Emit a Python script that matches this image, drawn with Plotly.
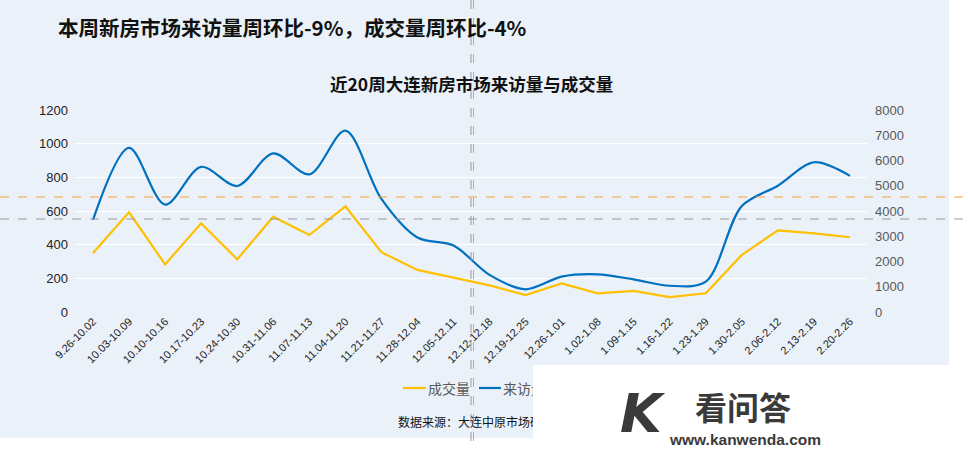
import plotly.graph_objects as go

weeks = ["9.26-10.02", "10.03-10.09", "10.10-10.16", "10.17-10.23", "10.24-10.30",
         "10.31-11.06", "11.07-11.13", "11.04-11.20", "11.21-11.27", "11.28-12.04",
         "12.05-12.11", "12.12-12.18", "12.19-12.25", "12.26-1.01", "1.02-1.08",
         "1.09-1.15", "1.16-1.22", "1.23-1.29", "1.30-2.05", "2.06-2.12",
         "2.13-2.19", "2.20-2.26"]
deals = [350, 592, 283, 527, 313, 566, 457, 628, 355, 250, 204, 158, 101, 170,
         111, 125, 89, 111, 339, 485, 467, 444]
visits = [3650, 6500, 4250, 5750, 4990, 6280, 5450, 7180, 4480, 2950, 2630, 1470,
          900, 1400, 1490, 1290, 1040, 1200, 4200, 5000, 5930, 5390]
left_ticks = [0, 200, 400, 600, 800, 1000, 1200]
right_ticks = [0, 1000, 2000, 3000, 4000, 5000, 6000, 7000, 8000]

W, H = 968, 449
L, R, T, B = 75, 868, 110, 312
FONT = "Liberation Sans, Arial, Noto Sans CJK SC"
CJK = "Noto Sans CJK SC, Liberation Sans"
PANEL = "#EAF1F9"
YELLOW = "#FFC000"
BLUE = "#0070C0"


def px(x):
    return (x - L) / (R - L)


def py(y):
    return (B - y) / (B - T)


fig = go.Figure()
fig.add_trace(go.Scatter(x=weeks, y=deals, name="成交量", mode="lines",
                         line=dict(color=YELLOW, width=2.2)))
fig.add_trace(go.Scatter(x=weeks, y=visits, name="来访量", mode="lines", yaxis="y2",
                         line=dict(color=BLUE, width=2.2, shape="spline", smoothing=0.9)))


def hline(y, color):
    return dict(type="line", xref="paper", yref="paper", x0=px(0), x1=px(968), y0=py(y), y1=py(y),
                line=dict(color=color, width=1, dash="dash"), layer="above")


def vline(x, color):
    return dict(type="line", xref="paper", yref="paper", x0=px(x), x1=px(x), y0=py(0), y1=py(449),
                line=dict(color=color, width=1, dash="dash"), layer="above")


shapes = [
    dict(type="rect", xref="paper", yref="paper", x0=px(0), x1=px(949), y0=py(0), y1=py(438),
         fillcolor=PANEL, line_width=0, layer="below"),
    # legend swatches
    dict(type="line", xref="paper", yref="paper", x0=px(403), x1=px(426), y0=py(388), y1=py(388),
         line=dict(color=YELLOW, width=2.2), layer="above"),
    dict(type="line", xref="paper", yref="paper", x0=px(479), x1=px(501), y0=py(388), y1=py(388),
         line=dict(color=BLUE, width=2.2), layer="above"),
    # guide lines from the screenshot
    hline(197, "#F4A23A"),
    hline(219, "#9A9A9A"),
    vline(471, "#9A9A9A"),
    vline(473.5, "#F4A23A"),
]

annotations = [
    dict(text="<b>本周新房市场来访量周环比-9%，成交量周环比-4%</b>", xref="paper", yref="paper",
         x=px(56), y=py(27), xanchor="left", yanchor="middle", showarrow=False,
         font=dict(family=CJK, size=20.5, color="#111111")),
    dict(text="<b>近20周大连新房市场来访量与成交量</b>", xref="paper", yref="paper",
         x=px(471), y=py(83), xanchor="center", yanchor="middle", showarrow=False,
         font=dict(family=CJK, size=17.5, color="#111111")),
    dict(text="成交量", xref="paper", yref="paper", x=px(426), y=py(388), xanchor="left",
         yanchor="middle", showarrow=False, font=dict(family=CJK, size=14, color="#595959")),
    dict(text="来访量", xref="paper", yref="paper", x=px(501), y=py(388), xanchor="left",
         yanchor="middle", showarrow=False, font=dict(family=CJK, size=14, color="#595959")),
    dict(text="数据来源：大连中原市场研究部", xref="paper", yref="paper",
         x=px(396), y=py(421), xanchor="left", yanchor="middle", showarrow=False,
         font=dict(family=CJK, size=12, color="#111111")),
    # watermark box
    dict(text="", xref="paper", yref="paper", x=px(533), y=py(365), xanchor="left", yanchor="top",
         width=435, height=84, bgcolor="white", showarrow=False, borderpad=0, borderwidth=0),
    dict(text="<b><i>K</i></b>", xref="paper", yref="paper", x=px(643), y=py(413), xanchor="center",
         yanchor="middle", showarrow=False,
         font=dict(family="DejaVu Sans", size=54, color="#3a3a3a")),
    dict(text="<b>看问答</b>", xref="paper", yref="paper", x=px(743), y=py(406), xanchor="center",
         yanchor="middle", showarrow=False,
         font=dict(family=CJK, size=32, color="#3a3a3a")),
    dict(text="<b>www.kanwenda.com</b>", xref="paper", yref="paper", x=px(745), y=py(439),
         xanchor="center", yanchor="middle", showarrow=False,
         font=dict(family="Liberation Sans", size=15.5, color="#3a3a3a")),
]

fig.update_layout(
    width=W, height=H,
    margin=dict(l=L, r=W - R, t=T, b=H - B, autoexpand=False),
    paper_bgcolor="white", plot_bgcolor=PANEL,
    font=dict(family=FONT, size=12, color="#333333"),
    showlegend=False,
    xaxis=dict(type="category", range=[-0.5, len(weeks) - 0.5], tickangle=-45,
               showgrid=False, zeroline=False, showline=False, automargin=False,
               tickfont=dict(size=11, color="#222222")),
    yaxis=dict(range=[0, 1200], tickvals=left_ticks, gridcolor="white", gridwidth=1,
               zeroline=False, showline=False, automargin=False,
               tickfont=dict(size=13, color="#222222"), ticklabelstandoff=6),
    yaxis2=dict(range=[0, 8000], tickvals=right_ticks, overlaying="y", side="right",
                showgrid=False, zeroline=False, showline=False, automargin=False,
                tickfont=dict(size=13, color="#595959"), ticklabelstandoff=6),
    shapes=shapes,
    annotations=annotations,
)

fig.write_html("out.html", config={"displayModeBar": False},
               post_script="document.body.style.margin='0';")
